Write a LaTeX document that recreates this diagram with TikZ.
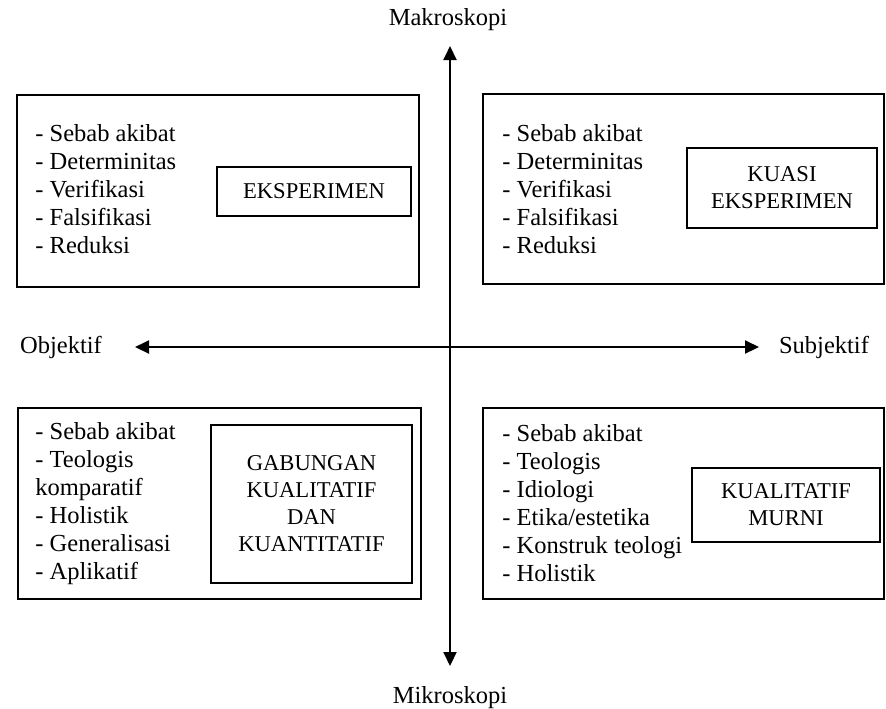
\documentclass[tikz,border=0pt]{standalone}
\usepackage{fontspec}
\setmainfont{Liberation Serif}
\usetikzlibrary{arrows.meta}

\begin{document}
\begin{tikzpicture}[x=0.5pt,y=-0.5pt,
   quad/.style n args={2}{draw,line width=0.6pt,rectangle,inner sep=0pt,minimum width=#1*0.5pt,minimum height=#2*0.5pt},
   lst/.style={align=left,inner sep=0pt,anchor=west,font=\fontsize{12.25}{14}\selectfont},
   kind/.style n args={2}{quad={#1}{#2},align=center,font=\fontsize{11.3}{13.5}\selectfont},
   pole/.style={inner sep=0pt,font=\fontsize{12.25}{14}\selectfont},
   axis/.style={line width=1pt,arrows={Triangle[length=7pt,width=6.5pt]-Triangle[length=7pt,width=6.5pt]}}]
\useasboundingbox (0,0) rectangle (886,708);
% poles
\node[pole] (makro) at (448,20) {Makroskopi};
\node[pole] (mikro) at (450,698) {Mikroskopi};
\node[pole] (obj) at (61,347) {Objektif};
\node[pole] (subj) at (824,347) {Subjektif};
\coordinate (axTop) at (450,46);
\coordinate (axBot) at (450,666);
\coordinate (axL) at (135,347);
\coordinate (axR) at (759,347);
\draw[axis] (axTop) -- (axBot);
\draw[axis] (axL) -- (axR);
% top left
\node[quad={402}{192}] (boxTL) at (218,191) {};
\node[lst] (listTL) at (35,189) {- Sebab akibat\\- Determinitas\\- Verifikasi\\- Falsifikasi\\- Reduksi};
\node[kind={194}{49}] (kindTL) at (314,191.5) {EKSPERIMEN};
% top right
\node[quad={401}{190}] (boxTR) at (683.5,189) {};
\node[lst] (listTR) at (502,189) {- Sebab akibat\\- Determinitas\\- Verifikasi\\- Falsifikasi\\- Reduksi};
\node[kind={190}{80}] (kindTR) at (782,188) {KUASI\\EKSPERIMEN};
% bottom left
\node[quad={403}{191}] (boxBL) at (219.5,503.5) {};
\node[lst] (listBL) at (35,504) {- Sebab akibat\\- Teologis\\komparatif\\- Holistik\\- Generalisasi\\- Aplikatif};
\node[kind={201}{158}] (kindBL) at (311.5,504) {GABUNGAN\\KUALITATIF\\DAN\\KUANTITATIF};
% bottom right
\node[quad={401}{191}] (boxBR) at (683.5,503.5) {};
\node[lst] (listBR) at (502,503) {- Sebab akibat\\- Teologis\\- Idiologi\\- Etika/estetika\\- Konstruk teologi\\- Holistik};
\node[kind={188}{74}] (kindBR) at (786,505) {KUALITATIF\\MURNI};
\end{tikzpicture}
\end{document}
